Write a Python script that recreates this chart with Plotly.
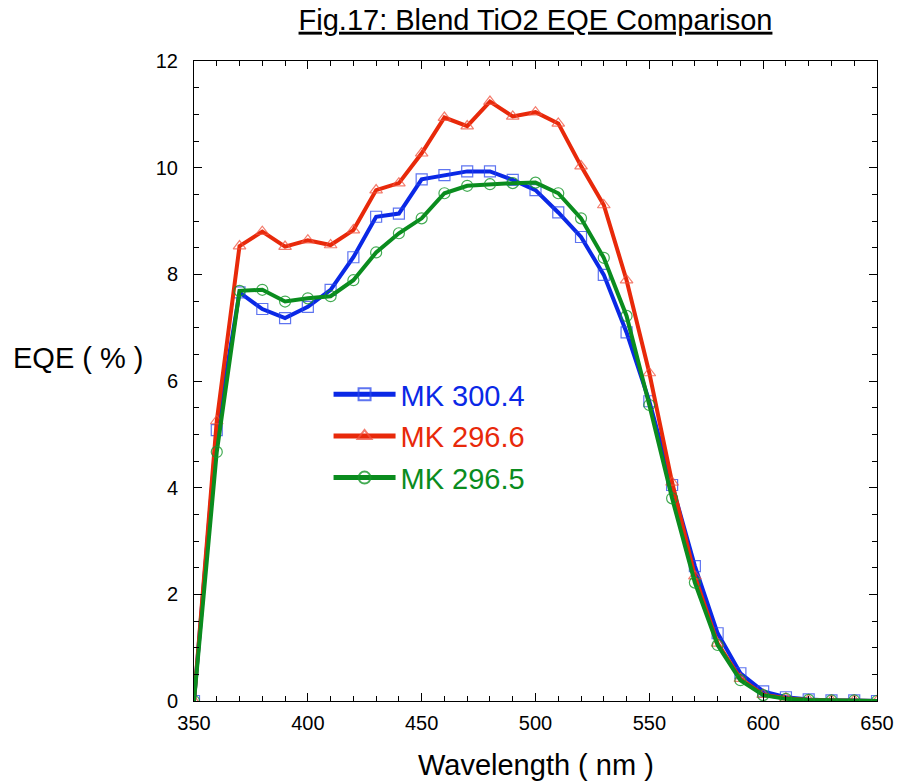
import plotly.graph_objects as go

wavelength = [350, 360, 370, 380, 390, 400, 410, 420, 430, 440, 450, 460, 470, 480, 490,
              500, 510, 520, 530, 540, 550, 560, 570, 580, 590, 600, 610, 620, 630, 640, 650]

mk_300_4 = [0, 5.08, 7.66, 7.35, 7.18, 7.39, 7.71, 8.32, 9.08, 9.14, 9.78, 9.86, 9.93, 9.93, 9.77,
            9.58, 9.16, 8.70, 7.99, 6.91, 5.62, 4.05, 2.53, 1.27, 0.52, 0.18, 0.07, 0.03, 0.01, 0.01, 0.0]
mk_296_6 = [0, 5.25, 8.53, 8.80, 8.52, 8.64, 8.55, 8.83, 9.58, 9.71, 10.27, 10.94, 10.78, 11.24, 10.96,
            11.04, 10.83, 10.03, 9.30, 7.89, 6.15, 4.10, 2.34, 1.08, 0.42, 0.12, 0.05, 0.02, 0.01, 0.01, 0.0]
mk_296_5 = [0, 4.67, 7.69, 7.71, 7.49, 7.55, 7.59, 7.89, 8.41, 8.77, 9.05, 9.52, 9.66, 9.69, 9.71,
            9.72, 9.52, 9.05, 8.31, 7.22, 5.55, 3.80, 2.22, 1.05, 0.39, 0.11, 0.04, 0.02, 0.01, 0.01, 0.0]

x_ticks = [350, 400, 450, 500, 550, 600, 650]
y_ticks = [0, 2, 4, 6, 8, 10, 12]

series = [
    ("MK 300.4", mk_300_4, "#0a28e6", "rgba(40,70,235,0.75)", "square-open"),
    ("MK 296.6", mk_296_6, "#e8290a", "rgba(240,80,60,0.75)", "triangle-up-open"),
    ("MK 296.5", mk_296_5, "#0a8c1e", "rgba(20,150,40,0.8)", "circle-open"),
]

fig = go.Figure()
for i, (name, vals, lc, mc, sym) in enumerate(series):
    fig.add_trace(go.Scatter(
        x=wavelength, y=vals, mode="lines+markers",
        name=f"<span style='color:{lc}'>{name}</span>",
        legendgroup=f"g{i}",
        line=dict(color=lc, width=4),
        marker=dict(symbol=sym, size=11, color=mc, line=dict(width=1.2, color=mc)),
    ))

font_family = "Liberation Sans, Arial, Helvetica, sans-serif"

axis_common = dict(
    ticks="inside", ticklen=8, tickcolor="black", showline=True, linecolor="black",
    linewidth=1, mirror="ticks", showgrid=False, zeroline=False, automargin=False,
    tickfont=dict(size=20),
)

fig.update_layout(
    width=897, height=783,
    margin=dict(l=194, r=20, t=61, b=82, autoexpand=False),
    paper_bgcolor="white", plot_bgcolor="white",
    font=dict(family=font_family, color="black", size=20),
    title=dict(text="<u>Fig.17: Blend TiO2 EQE Comparison</u>", x=0.5, xref="paper",
               xanchor="center", y=0.975, yref="container", yanchor="middle",
               font=dict(size=29)),
    showlegend=True,
    legend=dict(x=0.197, y=0.519, xanchor="left", yanchor="top", bgcolor="rgba(0,0,0,0)",
                font=dict(size=29), itemwidth=62, tracegroupgap=1, traceorder="grouped",
                itemsizing="constant"),
    xaxis=dict(range=[350, 650], tickvals=x_ticks, ticklabelstandoff=4,
               minor=dict(dtick=10, ticks="inside", ticklen=5, tickcolor="black", showgrid=False),
               **axis_common),
    yaxis=dict(range=[0, 12], tickvals=y_ticks, ticklabelstandoff=11,
               minor=dict(dtick=0.5, ticks="inside", ticklen=5, tickcolor="black", showgrid=False),
               **axis_common),
    annotations=[
        dict(text="EQE ( % )", x=-0.1698, y=0.536, xref="paper", yref="paper",
             showarrow=False, font=dict(size=29), xanchor="center", yanchor="middle"),
        dict(text="Wavelength ( nm )", x=0.5, y=-0.1, xref="paper", yref="paper",
             showarrow=False, font=dict(size=29), xanchor="center", yanchor="middle"),
    ],
)

fig.write_html("out.html", config={"displayModeBar": False},
               post_script="document.body.style.margin='0px';")
